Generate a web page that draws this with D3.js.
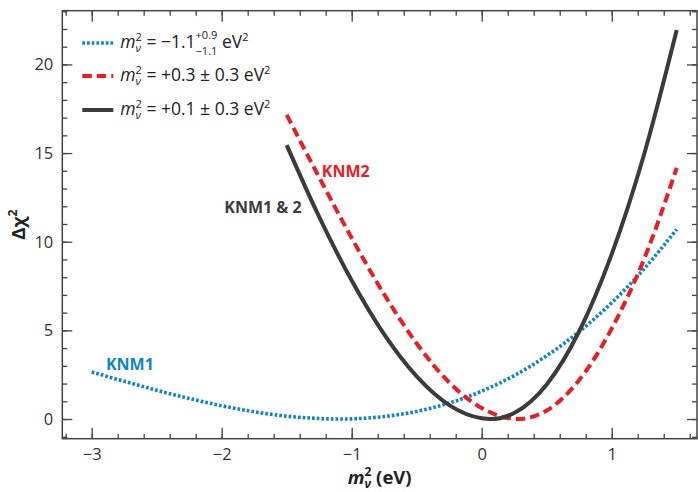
<!DOCTYPE html>
<html>
<head>
<meta charset="utf-8">
<script src="https://cdn.jsdelivr.net/npm/d3@7"></script>
<style>
  html, body { margin: 0; padding: 0; background: #fff; }
  svg { display: block; font-family: "Open Sans", sans-serif; }
</style>
</head>
<body>
<script>
// KNM1 (blue, dotted)
const knm1X = [-3, -2.75, -2.5, -2.25, -2, -1.75, -1.5, -1.25, -1.1, -1, -0.75, -0.5, -0.25, 0, 0.25, 0.5, 0.75, 1, 1.25, 1.5];
const knm1Y = [2.65, 2.13, 1.62, 1.16, 0.75, 0.41, 0.16, 0.03, 0, 0.01, 0.14, 0.43, 0.90, 1.57, 2.45, 3.57, 4.93, 6.56, 8.48, 10.7];
// KNM2 (red, dashed)
const knm2X = [-1.5, -1.25, -1, -0.75, -0.5, -0.25, 0, 0.28, 0.5, 0.75, 1, 1.25, 1.5];
const knm2Y = [17.15, 13.63, 10.21, 7.03, 4.26, 2.06, 0.62, 0, 0.48, 2.2, 5.10, 9.04, 14.16];
// KNM1 & 2 combined (dark, solid)
const knm12X = [-1.5, -1.25, -1, -0.75, -0.5, -0.25, 0, 0.07, 0.25, 0.5, 0.75, 1, 1.25, 1.5];
const knm12Y = [15.45, 11.40, 7.81, 4.77, 2.40, 0.78, 0.04, 0, 0.34, 1.95, 4.95, 9.3, 14.95, 21.94];

const xMajor = [-3, -2, -1, 0, 1];
const yMajor = [0, 5, 10, 15, 20];

const labels = [
  {text: "KNM1", x: -2.89, y: 2.76, color: "#0b86c9"},
  {text: "KNM2", x: -1.23, y: 13.65, color: "#ed1c24"},
  {text: "KNM1 & 2", x: -1.98, y: 11.62, color: "#3b3b3b"}
];

const width = 698, height = 492;
const margin = {top: 10.7, right: 1, bottom: 53.3, left: 62.3};

const x = d3.scaleLinear().domain([-3.226, 1.656]).range([margin.left, width - margin.right]);
const y = d3.scaleLinear().domain([-1.11, 23.03]).range([height - margin.bottom, margin.top]);

const svg = d3.select("body").append("svg")
    .attr("width", width)
    .attr("height", height);

const series = [
  {xs: knm1X, ys: knm1Y, color: "#0b86c9", width: 3.6, dash: "2.7,2"},
  {xs: knm2X, ys: knm2Y, color: "#ed1c24", width: 4, dash: "9.5,5"},
  {xs: knm12X, ys: knm12Y, color: "#3b3b3b", width: 4, dash: null}
];

const line = d3.line()
    .x(d => x(d[0]))
    .y(d => y(d[1]))
    .curve(d3.curveMonotoneX);

svg.append("g")
  .selectAll("path")
  .data(series)
  .join("path")
    .attr("fill", "none")
    .attr("stroke", d => d.color)
    .attr("stroke-width", d => d.width)
    .attr("stroke-dasharray", d => d.dash)
    .attr("d", d => line(d3.zip(d.xs, d.ys)));

// axes, ticks pointing inward
const ink = "#444";
function styleAxis(g) {
  g.select(".domain").remove();
  g.selectAll(".tick line").attr("stroke", ink).attr("stroke-width", 1.3);
  g.selectAll("text").attr("fill", "#333").attr("font-size", 16.5).attr("font-family", "Open Sans");
}
const xMinor = d3.range(-3.2, 1.61, 0.2).map(v => +v.toFixed(1));
const yMinor = d3.range(-1, 23.5, 1);
const yB = height - margin.bottom, xR = width - margin.right;

svg.append("g").attr("transform", `translate(0,${yB})`)
    .call(d3.axisBottom(x).tickValues(xMinor).tickSize(-5).tickFormat(""))
    .call(styleAxis);
svg.append("g").attr("transform", `translate(0,${yB})`)
    .call(d3.axisBottom(x).tickValues(xMajor).tickSize(-11).tickPadding(10).tickFormat(d3.format("d")))
    .call(styleAxis);
svg.append("g").attr("transform", `translate(0,${margin.top})`)
    .call(d3.axisTop(x).tickValues(xMinor).tickSize(-5).tickFormat(""))
    .call(styleAxis);
svg.append("g").attr("transform", `translate(0,${margin.top})`)
    .call(d3.axisTop(x).tickValues(xMajor).tickSize(-11).tickFormat(""))
    .call(styleAxis);
svg.append("g").attr("transform", `translate(${margin.left},0)`)
    .call(d3.axisLeft(y).tickValues(yMinor).tickSize(-5).tickFormat(""))
    .call(styleAxis);
svg.append("g").attr("transform", `translate(${margin.left},0)`)
    .call(d3.axisLeft(y).tickValues(yMajor).tickSize(-10).tickPadding(9).tickFormat(d3.format("d")))
    .call(styleAxis);
svg.append("g").attr("transform", `translate(${xR},0)`)
    .call(d3.axisRight(y).tickValues(yMinor).tickSize(-5).tickFormat(""))
    .call(styleAxis);
svg.append("g").attr("transform", `translate(${xR},0)`)
    .call(d3.axisRight(y).tickValues(yMajor).tickSize(-10).tickFormat(""))
    .call(styleAxis);

svg.append("rect")
    .attr("x", margin.left).attr("y", margin.top)
    .attr("width", xR - margin.left).attr("height", yB - margin.top)
    .attr("fill", "none").attr("stroke", ink).attr("stroke-width", 1.5);

// curve labels
svg.append("g")
    .attr("font-weight", "bold")
    .attr("font-size", 16)
  .selectAll("text")
  .data(labels)
  .join("text")
    .attr("x", d => x(d.x))
    .attr("y", d => y(d.y))
    .attr("fill", d => d.color)
    .text(d => d.text);

// rich text: runs of {t, size, it, dy}, or {stack: [run, run]}
function rich(g, x0, y0, runs, base) {
  let cx = x0;
  const put = r => {
    const t = g.append("text")
        .attr("x", cx)
        .attr("y", y0 + (r.dy || 0))
        .attr("font-size", r.size || base)
        .attr("font-style", r.it ? "italic" : null)
        .style("white-space", "pre")
        .text(r.t);
    return t.node().getComputedTextLength();
  };
  runs.forEach(r => {
    if (r.stack) cx += d3.max(r.stack.map(put));
    else cx += put(r);
  });
  return cx - x0;
}

const mnu = [{t: "m", it: true}, {stack: [{t: "2", size: 11, dy: -7.5}, {t: "ν", size: 11, it: true, dy: 3.5}]}];
const eV2 = [{t: " eV"}, {t: "2", size: 11, dy: -7.5}];
const legendRuns = [
  [...mnu, {t: " = −1.1"}, {stack: [{t: "+0.9", size: 11, dy: -8.6}, {t: "−1.1", size: 11, dy: 6.6}]}, ...eV2],
  [...mnu, {t: " = +0.3 ± 0.3"}, ...eV2],
  [...mnu, {t: " = +0.1 ± 0.3"}, ...eV2]
];
const legendY = [43, 76, 110];

const legend = svg.append("g").attr("fill", "#222");
series.forEach((s, i) => {
  legend.append("line")
      .attr("x1", margin.left + 20).attr("x2", margin.left + 51)
      .attr("y1", legendY[i]).attr("y2", legendY[i])
      .attr("stroke", s.color)
      .attr("stroke-width", s.width)
      .attr("stroke-dasharray", s.dash);
  rich(legend, margin.left + 58, legendY[i] + 5, legendRuns[i], 17.5);
});

// axis titles
const xt = svg.append("g").attr("fill", "#222").attr("font-weight", "bold");
const w = rich(xt, 0, 0, [
  {t: "m", it: true},
  {stack: [{t: "2", size: 12, dy: -8}, {t: "ν", size: 12, it: true, dy: 4}]},
  {t: " (eV)"}
], 18.5);
xt.attr("transform", `translate(${(margin.left + xR) / 2 - w / 2},484)`);

const yt = svg.append("g").attr("fill", "#222").attr("font-weight", "bold");
const wy = rich(yt, 0, 0, [{t: "Δχ"}, {t: "2", size: 12, dy: -8}], 18.5);
yt.attr("transform", `translate(25,${(margin.top + yB) / 2 + wy / 2}) rotate(-90)`);
</script>
</body>
</html>
